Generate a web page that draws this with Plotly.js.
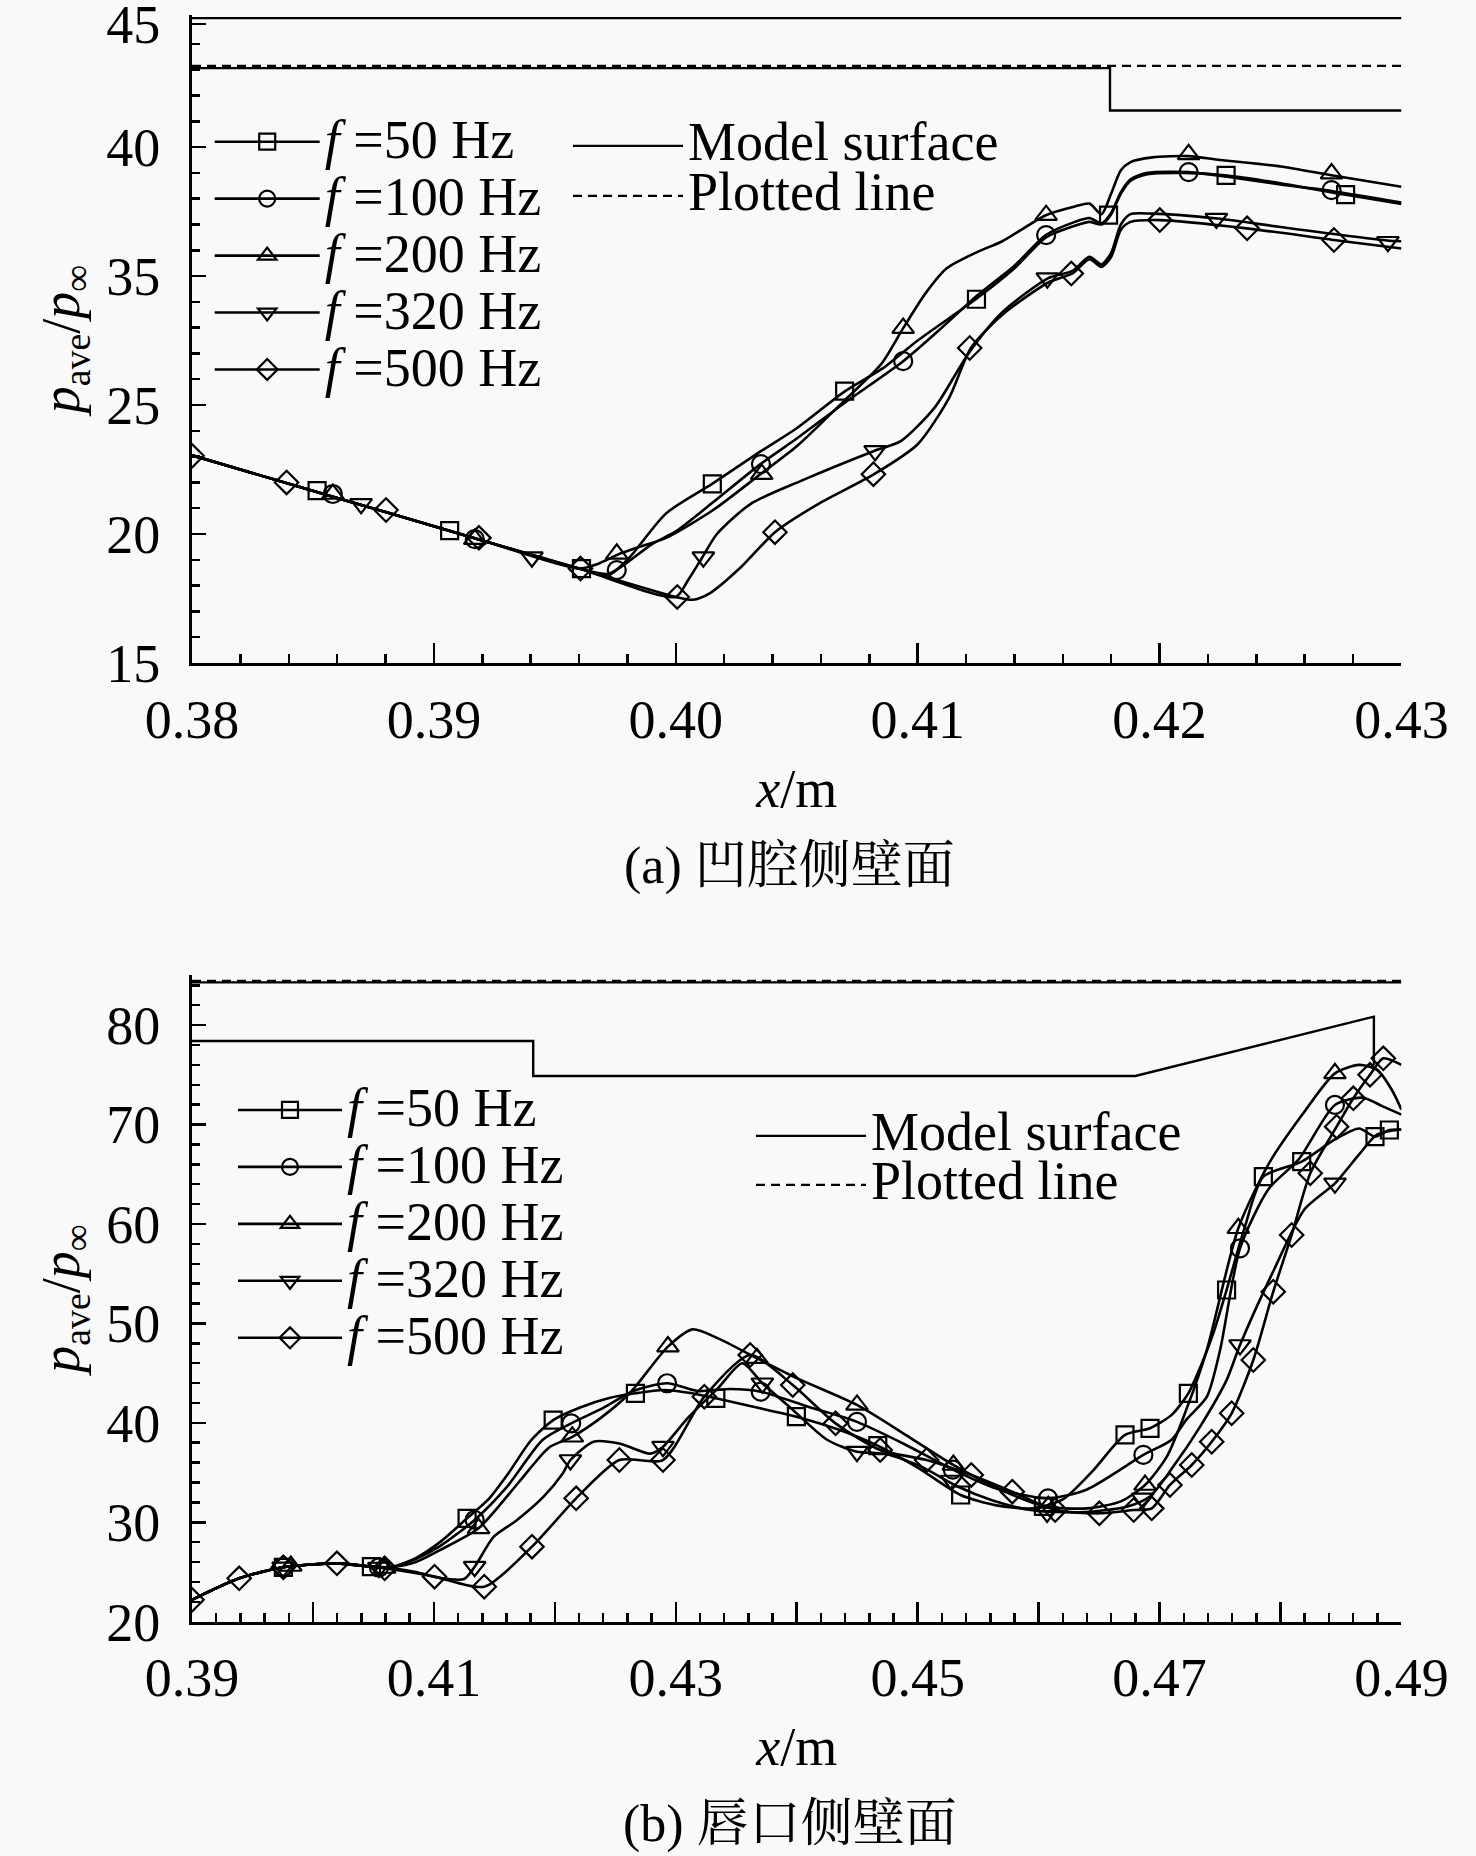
<!DOCTYPE html>
<html><head><meta charset="utf-8">
<script src="https://cdn.plot.ly/plotly-3.0.1.min.js"></script>
<style>html,body{margin:0;padding:0;background:#f9f9f9;} #chart{width:1476px;height:1856px;}</style>
</head><body><div id="chart"></div>
<script>
// ---------------- data: panel (a) ----------------
// y values are on the panel's linear position scale; the printed tick labels are given separately
// (the top label sits just under the frame edge, as in the original)
const topTickPos  = [15, 20, 25, 30, 35, 39.78];
const topTickText = ['15', '20', '25', '35', '40', '45'];

const seriesNames = ['50 Hz', '100 Hz', '200 Hz', '320 Hz', '500 Hz'];

const top50X  = [0.380,0.384,0.388,0.392,0.396,0.3972,0.398,0.3996,0.4015,0.4035,0.405,0.407,0.4086,0.4100,0.4124,0.414,0.4153,0.4165,0.4171,0.4176,0.4180,0.4184,0.4188,0.4195,0.421,0.4228,0.425,0.4277,0.430];
const top50Y  = [23.05,21.95,20.85,19.75,18.66,18.40,19.0,20.8,21.94,23.2,24.1,25.54,26.45,27.5,29.1,30.3,31.5,31.95,32.1,32.0,32.4,33.2,33.7,33.95,34.0,33.9,33.6,33.15,32.8];
const top100X = [0.380,0.384,0.388,0.392,0.396,0.3972,0.398,0.399,0.400,0.4015,0.4035,0.405,0.407,0.4094,0.411,0.4124,0.414,0.4153,0.4165,0.4171,0.4176,0.4180,0.4184,0.4188,0.4195,0.4212,0.4228,0.425,0.4271,0.430];
const top100Y = [23.05,21.95,20.85,19.75,18.66,18.45,18.9,19.6,20.1,21.2,22.71,23.7,25.1,26.7,28.0,29.2,30.4,31.59,32.1,32.25,32.05,32.45,33.25,33.75,34.0,34.03,33.85,33.55,33.3,32.85];
const top200X = [0.380,0.384,0.388,0.392,0.396,0.3968,0.3976,0.3985,0.3996,0.4015,0.4035,0.405,0.407,0.4085,0.4094,0.4103,0.4112,0.4125,0.4135,0.4153,0.4165,0.4171,0.4176,0.4180,0.4184,0.4188,0.4197,0.4212,0.4225,0.425,0.4271,0.430];
const top200Y = [23.05,21.95,20.85,19.75,18.66,18.85,19.2,19.5,19.85,20.9,22.32,23.4,25.2,26.6,27.98,29.3,30.3,30.95,31.35,32.36,32.7,32.81,32.4,33.2,34.1,34.42,34.6,34.65,34.5,34.25,33.91,33.46];
const top320X = [0.380,0.384,0.388,0.392,0.396,0.400,0.4005,0.4011,0.4017,0.4031,0.4052,0.4082,0.4093,0.4107,0.4121,0.4135,0.4154,0.4164,0.4171,0.4176,0.4180,0.4184,0.4188,0.4197,0.4224,0.425,0.4294,0.430];
const top320Y = [23.05,21.95,20.85,19.75,18.66,17.56,18.2,19.1,20.0,21.17,22.07,23.22,23.6,24.9,27.0,28.6,29.92,30.2,30.75,30.45,30.9,32.0,32.4,32.42,32.23,31.9,31.38,31.35];
const top500X = [0.380,0.384,0.388,0.392,0.396,0.400,0.4007,0.4014,0.4027,0.4041,0.4059,0.4082,0.4100,0.4113,0.4122,0.4135,0.4154,0.4164,0.4171,0.4176,0.4180,0.4184,0.4188,0.4200,0.4236,0.4272,0.430];
const top500Y = [23.05,21.95,20.85,19.75,18.66,17.56,17.45,17.7,18.72,20.07,21.17,22.32,23.48,25.28,27.21,28.5,29.75,30.1,30.65,30.35,30.75,31.8,32.1,32.17,31.85,31.4,31.07];

// marker positions (a)
const topM50X  = [0.38517,0.39065,0.3961,0.40151,0.40698,0.41243,0.41789,0.42275,0.42769];
const topM50Y  = [21.68,20.13,18.66,21.94,25.54,29.1,32.36,33.9,33.16];
const topM100X = [0.38582,0.39169,0.39756,0.40352,0.4094,0.41531,0.4212,0.42711];
const topM100Y = [21.55,19.8,18.6,22.71,26.7,31.59,34.03,33.33];
const topM200X = [0.38582,0.39169,0.39756,0.40355,0.4094,0.41531,0.4212,0.42711];
const topM200Y = [21.55,19.8,19.23,22.32,27.98,32.36,34.72,33.97];
const topM320X = [0.38699,0.39405,0.40114,0.40824,0.41536,0.42235,0.42944];
const topM320Y = [21.17,19.1,19.1,23.22,29.92,32.23,31.33];
const topM500X = [0.380,0.38391,0.38802,0.39186,0.39606,0.40006,0.4041,0.40817,0.41215,0.41635,0.42001,0.42362,0.42721];
const topM500Y = [23.03,22.0,20.93,19.85,18.66,17.56,20.07,22.32,27.21,30.1,32.17,31.85,31.4];

// model surface / plotted line (a)
const topWallX = [0.38, 0.43];
const topWallY = [40, 40];
const topSurfX = [0.38, 0.41795, 0.41795, 0.43];
const topSurfY = [38.06, 38.06, 36.42, 36.42];
const topDashX = [0.38, 0.43];
const topDashY = [38.15, 38.15];

// ---------------- data: panel (b) ----------------
const botTickPos  = [0.39,0.40,0.41,0.42,0.43,0.44,0.45,0.46,0.47,0.48,0.49];
const botTickText = ['0.39','','0.41','','0.43','','0.45','','0.47','','0.49'];

const bot50X  = [0.3900,0.3939,0.39755,0.40198,0.40483,0.4065,0.4085,0.4105,0.41274,0.4145,0.4162,0.4180,0.41986,0.4222,0.4245,0.42666,0.4290,0.4312,0.43331,0.4365,0.43997,0.4435,0.4467,0.4500,0.45355,0.4565,0.4595,0.4620,0.4645,0.46714,0.46921,0.4710,0.47238,0.4734,0.47444,0.47554,0.4770,0.47858,0.48175,0.4845,0.4865,0.48781,0.4890,0.4900];
const bot50Y  = [22.2,24.36,25.47,25.87,25.53,25.5,26.4,28.0,30.4,32.3,35.0,38.2,40.28,41.6,42.5,42.97,43.3,43.0,42.47,41.6,40.62,39.3,37.7,35.5,32.74,31.7,31.4,32.3,35.2,38.78,39.45,40.8,42.97,45.7,49.0,53.36,59.5,64.76,66.27,68.5,69.6,68.78,69.45,69.5];
const bot100X = [0.3900,0.3939,0.39755,0.40198,0.40483,0.4065,0.4085,0.4105,0.41337,0.4160,0.4190,0.42135,0.4240,0.4265,0.42928,0.4318,0.4345,0.43702,0.4410,0.44498,0.4490,0.4529,0.4565,0.46077,0.4640,0.46866,0.4710,0.4722,0.4739,0.4750,0.47665,0.4790,0.4815,0.4845,0.4868,0.4885,0.4900];
const bot100Y = [22.2,24.36,25.47,25.87,25.53,25.5,26.3,27.6,30.23,33.5,38.3,39.95,41.5,43.2,43.98,43.2,43.4,43.13,41.6,40.1,37.8,35.3,33.4,32.4,33.3,36.77,38.3,40.3,42.6,47.3,57.55,63.5,66.5,71.97,72.7,71.8,71.0];
const bot200X = [0.3900,0.3939,0.39755,0.40198,0.40483,0.4065,0.4085,0.4105,0.41369,0.4170,0.4195,0.42144,0.4238,0.4262,0.42935,0.43138,0.4335,0.43671,0.4400,0.44498,0.4490,0.45295,0.4570,0.4605,0.4640,0.4668,0.4688,0.4706,0.4722,0.4739,0.47651,0.4790,0.4818,0.4845,0.4865,0.4880,0.4892,0.4900];
const bot200Y = [22.2,24.36,25.47,25.87,25.53,25.5,26.0,27.2,29.39,34.0,37.5,38.6,40.5,43.0,47.66,49.4,48.5,46.5,44.5,41.8,38.8,35.76,33.2,31.6,31.4,32.1,33.75,36.6,41.3,47.3,59.57,66.0,71.0,75.15,76.0,75.5,73.5,71.5];
const bot320X = [0.3900,0.3939,0.39755,0.40198,0.40483,0.4065,0.4085,0.4105,0.4125,0.41337,0.41495,0.41685,0.41907,0.42065,0.42129,0.4232,0.4254,0.4279,0.42894,0.4310,0.4335,0.4355,0.43716,0.4395,0.4425,0.44498,0.4473,0.4503,0.4533,0.4562,0.4595,0.4635,0.46728,0.4692,0.47113,0.47334,0.47554,0.47665,0.4795,0.4820,0.4845,0.4865,0.4880,0.4900];
const bot320Y = [22.2,24.36,25.47,25.87,25.53,25.4,25.0,24.4,24.3,25.53,28.55,30.2,32.57,34.9,36.26,38.1,37.9,36.9,37.6,40.5,43.5,46.0,43.98,41.5,38.3,37.1,36.9,35.6,33.6,32.2,31.2,31.0,31.57,32.6,35.6,39.6,44.3,47.83,55.5,61.5,64.09,67.0,69.0,69.5];
const bot500X = [0.3900,0.3939,0.39755,0.40198,0.40593,0.41005,0.41416,0.41811,0.42176,0.42533,0.42894,0.43236,0.43615,0.43967,0.44321,0.4469,0.45074,0.45443,0.45782,0.46137,0.46502,0.46786,0.46935,0.47086,0.47266,0.47431,0.47596,0.47775,0.4794,0.48092,0.48246,0.48464,0.48602,0.4874,0.4885,0.4900];
const bot500Y = [22.2,24.36,25.47,25.87,25.37,24.53,23.52,27.55,32.41,36.26,36.26,42.63,46.82,43.8,39.95,37.27,36.26,34.76,33.08,31.23,30.9,31.23,31.4,33.75,35.76,38.1,40.96,46.32,53.19,58.89,65.1,69.79,72.64,75.0,76.66,76.0];

// marker positions (b)
const botM50X  = [0.39755,0.40483,0.41274,0.41986,0.42666,0.43331,0.43997,0.4467,0.45355,0.4604,0.46714,0.46921,0.47238,0.47554,0.47858,0.48175,0.48781,0.4890];
const botM50Y  = [25.47,25.53,30.4,40.28,42.97,42.47,40.62,37.7,32.74,31.6,38.78,39.45,42.97,53.36,64.76,66.27,68.78,69.45];
const botM100X = [0.39753,0.40545,0.41337,0.42135,0.42928,0.43702,0.44498,0.4529,0.46077,0.46866,0.47665,0.4845];
const botM100Y = [25.47,25.45,30.23,39.95,43.98,43.13,40.1,35.3,32.4,36.77,57.55,71.97];
const botM200X = [0.39817,0.40593,0.41369,0.42144,0.42935,0.43671,0.44498,0.45295,0.4608,0.4688,0.47651,0.4845];
const botM200Y = [25.6,25.4,29.39,38.6,47.66,46.5,41.8,35.76,31.6,33.75,59.57,75.15];
const botM320X = [0.39753,0.40545,0.41337,0.42129,0.42894,0.43716,0.44498,0.4528,0.4607,0.4686,0.47665,0.4845];
const botM320Y = [25.47,25.45,25.53,36.26,37.6,43.98,37.1,34.2,31.0,32.4,47.83,64.09];
const botM500X = [0.3900,0.3939,0.39755,0.40198,0.40593,0.41005,0.41416,0.41811,0.42176,0.42533,0.42894,0.43236,0.43615,0.43967,0.44321,0.4469,0.45074,0.45443,0.45782,0.46137,0.46502,0.46786,0.46935,0.47086,0.47266,0.47431,0.47596,0.47775,0.4794,0.48092,0.48246,0.48464,0.48602,0.4874,0.4885];
const botM500Y = [22.2,24.36,25.47,25.87,25.37,24.53,23.52,27.55,32.41,36.26,36.26,42.63,46.82,43.8,39.95,37.27,36.26,34.76,33.08,31.23,30.9,31.23,31.4,33.75,35.76,38.1,40.96,46.32,53.19,58.89,65.1,69.79,72.64,75.0,76.66];

// model surface / plotted line (b)
const botWallX = [0.39, 0.49];
const botWallY = [84.3, 84.3];
const botSurfX = [0.39, 0.41821, 0.41821, 0.4680, 0.48772, 0.48772];
const botSurfY = [78.4, 78.4, 74.88, 74.88, 80.85, 76.0];
const botDashX = [0.39, 0.49];
const botDashY = [84.45, 84.45];

// ---------------- styles ----------------
const FONT = 'Liberation Serif, "Noto Serif CJK SC", "Noto Sans CJK SC", serif';
const SYMBOLS = ['square-open','circle-open','triangle-up-open','triangle-down-open','diamond-open'];
const MSIZE = [17, 18, 19, 19, 18];
const LW = 2.6;

function lineTr(x, y, xa, ya) {
  return {type:'scatter', mode:'lines', x:x, y:y, xaxis:xa, yaxis:ya, showlegend:false, hoverinfo:'skip',
          line:{color:'#000', width:LW, shape:'spline', smoothing:0.7}};
}
function markTr(x, y, xa, ya, i) {
  return {type:'scatter', mode:'markers', x:x, y:y, xaxis:xa, yaxis:ya, showlegend:false, hoverinfo:'skip',
          marker:{symbol:SYMBOLS[i], size:MSIZE[i], color:'#000', line:{color:'#000', width:2.2}}};
}
function legTr(xa, ya, i, leg) {
  return {type:'scatter', mode:'lines+markers', x:[null], y:[null], xaxis:xa, yaxis:ya, legend:leg,
          name:'<span style="font-size:54px"><i>f</i> =' + seriesNames[i] + '</span>',
          line:{color:'#000', width:LW},
          marker:{symbol:SYMBOLS[i], size:MSIZE[i], color:'#000', line:{color:'#000', width:2.2}}};
}
function surfTr(x, y, xa, ya, dash, name, leg, show) {
  return {type:'scatter', mode:'lines', x:x, y:y, xaxis:xa, yaxis:ya, legend:leg, showlegend:show, hoverinfo:'skip',
          name:'<span style="font-size:54px">' + name + '</span>',
          line:{color:'#000', width:2.4, dash:dash}};
}

const topLines = [[top50X,top50Y],[top100X,top100Y],[top200X,top200Y],[top320X,top320Y],[top500X,top500Y]];
const topMarks = [[topM50X,topM50Y],[topM100X,topM100Y],[topM200X,topM200Y],[topM320X,topM320Y],[topM500X,topM500Y]];
const botLines = [[bot50X,bot50Y],[bot100X,bot100Y],[bot200X,bot200Y],[bot320X,bot320Y],[bot500X,bot500Y]];
const botMarks = [[botM50X,botM50Y],[botM100X,botM100Y],[botM200X,botM200Y],[botM320X,botM320Y],[botM500X,botM500Y]];

const traces = [];
// panel (a)
traces.push(surfTr(topSurfX, topSurfY, 'x', 'y', 'solid', 'Model surface', 'legend2', true));
traces.push(surfTr(topDashX, topDashY, 'x', 'y', '9px,6px', 'Plotted line', 'legend2', true));
traces.push(surfTr(topWallX, topWallY, 'x', 'y', 'solid', 'Model surface', 'legend2', false));
for (let i = 0; i < 5; i++) {
  traces.push(lineTr(topLines[i][0], topLines[i][1], 'x', 'y'));
  traces.push(markTr(topMarks[i][0], topMarks[i][1], 'x', 'y', i));
  traces.push(legTr('x', 'y', i, 'legend'));
}
// panel (b)
traces.push(surfTr(botSurfX, botSurfY, 'x2', 'y2', 'solid', 'Model surface', 'legend4', true));
traces.push(surfTr(botDashX, botDashY, 'x2', 'y2', '9px,6px', 'Plotted line', 'legend4', true));
traces.push(surfTr(botWallX, botWallY, 'x2', 'y2', 'solid', 'Model surface', 'legend4', false));
for (let i = 0; i < 5; i++) {
  traces.push(lineTr(botLines[i][0], botLines[i][1], 'x2', 'y2'));
  traces.push(markTr(botMarks[i][0], botMarks[i][1], 'x2', 'y2', i));
  traces.push(legTr('x2', 'y2', i, 'legend3'));
}

const axBase = {showline:true, linecolor:'#000', linewidth:3, ticks:'inside', tickcolor:'#000', tickwidth:2.5,
                showgrid:false, zeroline:false, mirror:false, automargin:false, ticklabeloverflow:'allow',
                tickfont:{family:FONT, size:54, color:'#000'}};
const minorBase = {ticks:'inside', tickcolor:'#000', tickwidth:2.5, showgrid:false};
const yTitle = '<i>p</i><sub>ave</sub>/<i>p</i><sub>∞</sub>';
const xTitle = '<i>x</i>/m';
const XDOM = [0.1301, 0.9495];

const layout = {
  width:1476, height:1856, margin:{l:0, r:0, t:0, b:0},
  paper_bgcolor:'#f9f9f9', plot_bgcolor:'#f9f9f9',
  font:{family:FONT, size:54, color:'#000'},
  showlegend:true,
  xaxis:Object.assign({}, axBase, {domain:XDOM, anchor:'y', range:[0.38, 0.43],
    tickmode:'linear', tick0:0.38, dtick:0.01, tickformat:'.2f', ticklen:20, ticklabelstandoff:7,
    minor:Object.assign({}, minorBase, {tickmode:'linear', tick0:0.38, dtick:0.002, ticklen:9}),
    title:{text:xTitle, font:{family:FONT, size:54}, standoff:21}}),
  yaxis:Object.assign({}, axBase, {domain:[0.6428, 0.9919], anchor:'x', range:[15, 40.12],
    tickmode:'array', tickvals:topTickPos, ticktext:topTickText, ticklen:14, ticklabelstandoff:18,
    minor:Object.assign({}, minorBase, {tickmode:'linear', tick0:15, dtick:1, ticklen:8}),
    title:{text:yTitle, font:{family:FONT, size:54}, standoff:10}}),
  xaxis2:Object.assign({}, axBase, {domain:XDOM, anchor:'y2', range:[0.39, 0.49],
    tickmode:'array', tickvals:botTickPos, ticktext:botTickText, ticklen:20, ticklabelstandoff:7,
    minor:Object.assign({}, minorBase, {tickmode:'linear', tick0:0.39, dtick:0.002, ticklen:9}),
    title:{text:xTitle, font:{family:FONT, size:54}, standoff:20}}),
  yaxis2:Object.assign({}, axBase, {domain:[0.12624, 0.47446], anchor:'x2', range:[20, 85],
    tickmode:'linear', tick0:20, dtick:10, ticklen:14, ticklabelstandoff:18,
    minor:Object.assign({}, minorBase, {tickmode:'linear', tick0:20, dtick:2, ticklen:8}),
    title:{text:yTitle, font:{family:FONT, size:54}, standoff:10}}),
  legend:{x:0.14207, y:0.9417, xanchor:'left', yanchor:'top', bgcolor:'rgba(0,0,0,0)', borderwidth:0,
          font:{family:FONT, size:41.5, color:'#000'}, itemwidth:105, tracegroupgap:0},
  legend2:{x:0.38482, y:0.93760, xanchor:'left', yanchor:'top', bgcolor:'rgba(0,0,0,0)', borderwidth:0,
          font:{family:FONT, size:36.2, color:'#000'}, itemwidth:110, tracegroupgap:0},
  legend3:{x:0.15786, y:0.41999, xanchor:'left', yanchor:'top', bgcolor:'rgba(0,0,0,0)', borderwidth:0,
          font:{family:FONT, size:41.5, color:'#000'}, itemwidth:104, tracegroupgap:0},
  legend4:{x:0.50881, y:0.40390, xanchor:'left', yanchor:'top', bgcolor:'rgba(0,0,0,0)', borderwidth:0,
          font:{family:FONT, size:35.4, color:'#000'}, itemwidth:110, tracegroupgap:0},
  annotations:[
    {xref:'paper', yref:'paper', x:0.5352, y:0.5334, xanchor:'center', yanchor:'middle', showarrow:false,
     text:'(a) 凹腔侧壁面', font:{family:FONT, size:52, color:'#000'}},
    {xref:'paper', yref:'paper', x:0.5352, y:0.0172, xanchor:'center', yanchor:'middle', showarrow:false,
     text:'(b) 唇口侧壁面', font:{family:FONT, size:52, color:'#000'}}
  ]
};

Plotly.newPlot('chart', traces, layout, {staticPlot:true, displayModeBar:false});
</script></body></html>
